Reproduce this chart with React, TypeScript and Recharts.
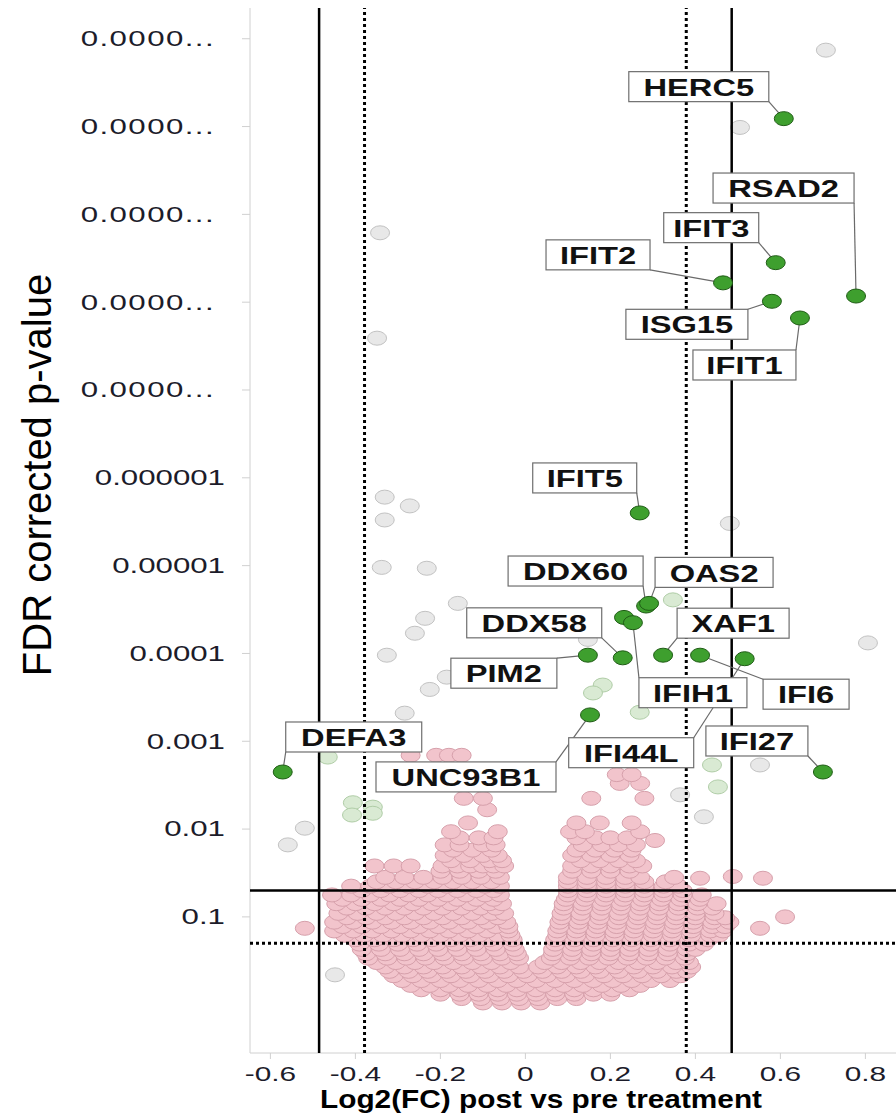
import React from 'react';
import { ScatterChart, Scatter, XAxis, YAxis, ReferenceLine } from 'recharts';

// axis ticks (y is -log10 of the FDR p-value)
const xTicks = [-0.6, -0.4, -0.2, 0, 0.2, 0.4, 0.6, 0.8];
const yTicks = [1, 2, 3, 4, 5, 6, 7, 8, 9, 10, 11];
const yTickLabels = ['0.1', '0.01', '0.001', '0.0001', '0.00001', '0.000001', '0.0000...', '0.0000...', '0.0000...', '0.0000...', '0.0000...'];

// cut-offs: FC 1.3 / 1.4 and FDR 0.2 / 0.05
const fcDotted = 0.3785;
const fcSolid = 0.4854;
const pDotted = 0.699;
const pSolid = 1.301;

// significant genes (dark green)
const labeledGenes = [
  { gene: 'HERC5', x: 0.608, y: 10.09 },
  { gene: 'RSAD2', x: 0.778, y: 8.07 },
  { gene: 'IFIT3', x: 0.589, y: 8.45 },
  { gene: 'IFIT2', x: 0.465, y: 8.22 },
  { gene: 'ISG15', x: 0.58, y: 8.01 },
  { gene: 'IFIT1', x: 0.646, y: 7.82 },
  { gene: 'IFIT5', x: 0.269, y: 5.6 },
  { gene: 'DDX60', x: 0.284, y: 4.54 },
  { gene: 'OAS2', x: 0.291, y: 4.57 },
  { gene: '', x: 0.232, y: 4.41 },
  { gene: 'IFIH1', x: 0.253, y: 4.35 },
  { gene: 'PIM2', x: 0.147, y: 3.98 },
  { gene: 'DDX58', x: 0.229, y: 3.95 },
  { gene: 'XAF1', x: 0.324, y: 3.98 },
  { gene: 'IFI6', x: 0.411, y: 3.98 },
  { gene: 'IFI44L', x: 0.516, y: 3.94 },
  { gene: 'UNC93B1', x: 0.152, y: 3.3 },
  { gene: 'IFI27', x: 0.7, y: 2.65 },
  { gene: 'DEFA3', x: -0.571, y: 2.65 },
];

// pale grey genes
const greyGenes = [
  [0.707, 10.87], [0.505, 9.99], [-0.342, 8.79], [-0.349, 7.59], [-0.331, 5.78], [-0.272, 5.68],
  [-0.331, 5.52], [-0.338, 4.98], [-0.232, 4.97], [-0.159, 4.57], [-0.236, 4.4], [-0.26, 4.23],
  [-0.326, 3.98], [-0.185, 3.73], [-0.225, 3.59], [-0.284, 3.32], [0.147, 4.16], [0.481, 5.48],
  [0.806, 4.12], [0.552, 2.73], [0.364, 2.39], [0.42, 2.14], [-0.519, 2.01], [-0.559, 1.82],
  [-0.448, 0.34],
];

// pale green genes
const paleGreenGenes = [
  [0.347, 4.61], [0.182, 3.64], [0.159, 3.55], [0.269, 3.33], [0.439, 2.73], [0.453, 2.48],
  [-0.465, 2.82], [-0.406, 2.3], [-0.359, 2.25], [-0.408, 2.16], [-0.359, 2.18],
];

// non significant genes (pink), read row by row: [y, x values]
const pinkRows: [number, number[]][] = [
  [0.02, [-0.1, -0.055, -0.01, 0.035]],
  [0.07, [-0.15, -0.105, -0.06, -0.015, 0.03, 0.075, 0.12]],
  [0.12, [-0.2, -0.155, -0.11, -0.065, -0.02, 0.025, 0.07, 0.115, 0.16, 0.2]],
  [0.17, [-0.245, -0.2, -0.155, -0.11, -0.065, -0.02, 0.025, 0.07, 0.115, 0.16, 0.205, 0.245]],
  [0.22, [-0.27, -0.225, -0.18, -0.135, -0.09, -0.045, 0.0, 0.045, 0.09, 0.135, 0.18, 0.225, 0.27]],
  [0.275, [-0.29, -0.245, -0.2, -0.155, -0.11, -0.065, -0.02, 0.025, 0.07, 0.115, 0.16, 0.205, 0.25, 0.295, 0.34]],
  [0.33, [-0.31, -0.265, -0.22, -0.175, -0.13, -0.085, -0.04, 0.005, 0.05, 0.095, 0.14, 0.185, 0.23, 0.275, 0.32, 0.365]],
  [0.38, [-0.32, -0.275, -0.23, -0.185, -0.14, -0.095, -0.05, -0.005, 0.04, 0.085, 0.13, 0.175, 0.22, 0.265, 0.31, 0.355, 0.38]],
  [0.43, [-0.33, -0.285, -0.24, -0.195, -0.15, -0.105, -0.06, -0.015, 0.03, 0.075, 0.12, 0.165, 0.21, 0.255, 0.3, 0.345, 0.39]],
  [0.48, [-0.35, -0.305, -0.26, -0.215, -0.17, -0.125, -0.08, -0.035, 0.045, 0.085, 0.13, 0.175, 0.22, 0.265, 0.31, 0.355, 0.385]],
  [0.53, [-0.37, -0.325, -0.28, -0.235, -0.19, -0.145, -0.1, -0.055, -0.015, 0.06, 0.105, 0.15, 0.195, 0.24, 0.285, 0.33, 0.375]],
  [0.58, [-0.375, -0.33, -0.285, -0.24, -0.195, -0.15, -0.105, -0.06, -0.02, 0.065, 0.11, 0.155, 0.2, 0.245, 0.29, 0.335, 0.38]],
  [0.63, [-0.385, -0.34, -0.295, -0.25, -0.205, -0.16, -0.115, -0.07, -0.025, 0.065, 0.11, 0.155, 0.2, 0.245, 0.29, 0.335, 0.38, 0.4]],
  [0.69, [-0.39, -0.345, -0.3, -0.255, -0.21, -0.165, -0.12, -0.075, -0.03, 0.07, 0.115, 0.16, 0.205, 0.25, 0.295, 0.34, 0.385, 0.42]],
  [0.74, [-0.4, -0.355, -0.31, -0.265, -0.22, -0.175, -0.13, -0.085, -0.03, 0.07, 0.115, 0.16, 0.205, 0.25, 0.295, 0.34, 0.385, 0.43]],
  [0.79, [-0.425, -0.38, -0.335, -0.29, -0.245, -0.2, -0.155, -0.11, -0.065, -0.035, 0.075, 0.12, 0.165, 0.21, 0.255, 0.3, 0.345, 0.39, 0.435, 0.455]],
  [0.84, [-0.45, -0.405, -0.36, -0.315, -0.27, -0.225, -0.18, -0.135, -0.09, -0.04, 0.075, 0.12, 0.165, 0.21, 0.255, 0.3, 0.345, 0.39, 0.435, 0.465]],
  [0.89, [-0.43, -0.385, -0.34, -0.295, -0.25, -0.205, -0.16, -0.115, -0.07, -0.04, 0.08, 0.125, 0.17, 0.215, 0.26, 0.305, 0.35, 0.395, 0.44, 0.47]],
  [0.94, [-0.45, -0.405, -0.36, -0.315, -0.27, -0.225, -0.18, -0.135, -0.09, -0.045, 0.08, 0.125, 0.17, 0.215, 0.26, 0.305, 0.35, 0.395, 0.44, 0.48]],
  [0.99, [-0.42, -0.375, -0.33, -0.285, -0.24, -0.195, -0.15, -0.105, -0.065, 0.085, 0.13, 0.175, 0.22, 0.265, 0.31, 0.355, 0.4, 0.445, 0.47]],
  [1.04, [-0.44, -0.395, -0.35, -0.305, -0.26, -0.215, -0.17, -0.125, -0.08, -0.05, 0.085, 0.13, 0.175, 0.22, 0.265, 0.31, 0.355, 0.4, 0.445]],
  [1.1, [-0.42, -0.375, -0.33, -0.285, -0.24, -0.195, -0.15, -0.105, -0.07, 0.09, 0.135, 0.18, 0.225, 0.27, 0.315, 0.36, 0.405, 0.44]],
  [1.15, [-0.445, -0.4, -0.355, -0.31, -0.265, -0.22, -0.175, -0.13, -0.085, -0.055, 0.09, 0.135, 0.18, 0.225, 0.27, 0.315, 0.36, 0.405, 0.45]],
  [1.2, [-0.43, -0.385, -0.34, -0.295, -0.25, -0.205, -0.16, -0.115, -0.075, 0.095, 0.14, 0.185, 0.23, 0.275, 0.32, 0.365, 0.41]],
  [1.25, [-0.455, -0.41, -0.365, -0.32, -0.275, -0.23, -0.185, -0.14, -0.095, -0.06, 0.1, 0.145, 0.19, 0.235, 0.28, 0.325, 0.37, 0.415]],
  [1.3, [-0.385, -0.34, -0.295, -0.25, -0.205, -0.16, -0.115, -0.075, 0.1, 0.145, 0.19, 0.235, 0.28, 0.325, 0.37]],
  [1.35, [-0.41, -0.365, -0.32, -0.275, -0.23, -0.185, -0.14, -0.095, -0.06, 0.1, 0.145, 0.19, 0.235, 0.28, 0.325, 0.36]],
  [1.4, [-0.35, -0.305, -0.26, -0.215, -0.17, -0.125, -0.08, 0.1, 0.145, 0.19, 0.235, 0.28, 0.33]],
  [1.45, [-0.33, -0.285, -0.24, -0.195, -0.15, -0.105, -0.06, 0.1, 0.145, 0.19, 0.235, 0.27, 0.35]],
  [1.52, [-0.2, -0.155, -0.11, -0.07, 0.11, 0.155, 0.2, 0.245]],
  [1.58, [-0.355, -0.31, -0.27, -0.195, -0.16, -0.13, -0.1, -0.075, -0.05, 0.11, 0.155, 0.2, 0.245, 0.275]],
  [1.64, [-0.175, -0.13, -0.085, -0.055, 0.13, 0.175, 0.22, 0.26]],
  [1.7, [-0.19, -0.145, -0.1, -0.065, 0.11, 0.155, 0.2, 0.245]],
  [1.76, [-0.17, -0.125, -0.08, 0.12, 0.165, 0.21, 0.25]],
  [1.82, [-0.19, -0.155, -0.1, -0.07, 0.135, 0.18, 0.22, 0.26]],
  [1.9, [-0.155, -0.11, -0.075, 0.12, 0.165, 0.2, 0.24]],
  [1.97, [-0.175, -0.065, 0.105, 0.14, 0.27]],
  [2.07, [-0.135, 0.12, 0.175, 0.25]],
  [2.22, [-0.09]],
  [2.35, [-0.145, -0.1, 0.155, 0.28]],
  [2.52, [0.222, 0.27]],
  [2.62, [0.215, 0.25]],
  [2.84, [-0.27, -0.21, -0.18, -0.15]],
];
const pinkSingles = [
  [0.305, 1.87], [0.411, 1.44], [0.488, 1.46], [0.559, 1.44], [0.611, 1.0], [0.552, 0.87], [-0.519, 0.87],
];

// label box placement in pixels, relative to the point
const LABEL_LAYOUT: Record<string, { dx: number; dy: number; w: number; corner: string }> = {
  HERC5: { dx: -155, dy: -47, w: 140, corner: 'br' },
  RSAD2: { dx: -143, dy: -123, w: 141, corner: 'br' },
  IFIT3: { dx: -112, dy: -50, w: 95, corner: 'br' },
  IFIT2: { dx: -177, dy: -43, w: 104, corner: 'br' },
  ISG15: { dx: -146, dy: 8, w: 122, corner: 'tr' },
  IFIT1: { dx: -107, dy: 32, w: 103, corner: 'tr' },
  IFIT5: { dx: -107, dy: -50, w: 104, corner: 'br' },
  DDX60: { dx: -138, dy: -50, w: 135, corner: 'br' },
  OAS2: { dx: 6, dy: -46, w: 118, corner: 'bl' },
  DDX58: { dx: -156, dy: -50, w: 135, corner: 'br' },
  XAF1: { dx: 14, dy: -47, w: 112, corner: 'bl' },
  PIM2: { dx: -137, dy: 3, w: 106, corner: 'tr' },
  IFIH1: { dx: 6, dy: 55, w: 108, corner: 'tl' },
  IFI6: { dx: 63, dy: 24, w: 86, corner: 'tl' },
  IFI44L: { dx: -176, dy: 79, w: 125, corner: 'tr' },
  UNC93B1: { dx: -214, dy: 47, w: 180, corner: 'tr' },
  IFI27: { dx: -117, dy: -46, w: 102, corner: 'br' },
  DEFA3: { dx: 3, dy: -50, w: 136, corner: 'bl' },
};
const BOX_H = 30;
const SX = 1.42; // the source picture is stretched sideways
const FONT = '"Liberation Sans", Arial, sans-serif';

const toPts = (arr: number[][]) => arr.map(([x, y]) => ({ x, y }));
const pinkData = [
  ...pinkRows.flatMap(([y, xs]) => xs.map((x) => ({ x, y }))),
  ...toPts(pinkSingles),
];
const greyData = toPts(greyGenes);
const paleGreenData = toPts(paleGreenGenes);
const labelData = labeledGenes.filter((g) => g.gene !== '');

const dot = (fill: string, stroke: string) => (p: any) => (
  <ellipse cx={p.cx} cy={p.cy} rx={9.5} ry={7} fill={fill} stroke={stroke} strokeWidth={1} />
);

const boxPos = (p: any) => {
  const l = LABEL_LAYOUT[p.payload.gene];
  const bx = p.cx + l.dx;
  const by = p.cy + l.dy;
  const ax = l.corner.includes('r') ? bx + l.w : bx;
  const ay = l.corner.includes('b') ? by + BOX_H : by;
  return { l, bx, by, ax, ay };
};

const Leader = (p: any) => {
  const { ax, ay } = boxPos(p);
  return <line x1={ax} y1={ay} x2={p.cx} y2={p.cy} stroke="#6a6a6a" strokeWidth={1.2} />;
};

const LabelBox = (p: any) => {
  const { l, bx, by } = boxPos(p);
  return (
    <g>
      <rect x={bx} y={by} width={l.w} height={BOX_H} fill="#fff" stroke="#6e6e6e" strokeWidth={1.2} />
      <text
        transform={`translate(${bx + l.w / 2},${by + BOX_H / 2 + 1}) scale(${SX},1)`}
        textAnchor="middle"
        dominantBaseline="central"
        fontFamily={FONT}
        fontWeight="bold"
        fontSize={23}
        fill="#111"
      >
        {p.payload.gene}
      </text>
    </g>
  );
};

const YTick = ({ x, y, payload }: any) => {
  const label = yTickLabels[yTicks.indexOf(payload.value)];
  const cut = label.endsWith('...');
  return (
    <text
      transform={`translate(${cut ? x - 10 : x},${y}) scale(${SX},1)`}
      textAnchor="end"
      dominantBaseline="central"
      fontFamily={FONT}
      fontSize={22}
      letterSpacing={cut ? 1 : 0}
      fill="#1c1c2a"
    >
      {label}
    </text>
  );
};

const XTick = ({ x, y, payload }: any) => (
  <text
    transform={`translate(${x},${y + 9}) scale(${SX},1)`}
    textAnchor="middle"
    dominantBaseline="central"
    fontFamily={FONT}
    fontSize={21}
    fill="#1c1c2a"
  >
    {payload.value}
  </text>
);

export default function App() {
  return (
    <div style={{ position: 'absolute', left: 0, top: 0, width: 896, height: 1117, background: '#fff' }}>
      <ScatterChart width={896} height={1117} margin={{ top: 8, right: 0, bottom: 0, left: 0 }}>
        <XAxis
          type="number"
          dataKey="x"
          domain={[-0.648, 0.872]}
          ticks={xTicks}
          allowDataOverflow
          height={64}
          axisLine={{ stroke: '#d0d0d0' }}
          tickLine={{ stroke: '#d0d0d0' }}
          tickSize={6}
          tickMargin={6}
          tick={<XTick />}
        />
        <YAxis
          type="number"
          dataKey="y"
          domain={[-0.55, 11.35]}
          ticks={yTicks}
          allowDataOverflow
          width={250}
          axisLine={{ stroke: '#d0d0d0' }}
          tickLine={{ stroke: '#d0d0d0' }}
          tickSize={8}
          tickMargin={17}
          tick={<YTick />}
        />
        <Scatter data={pinkData} shape={dot('#f2c4cc', '#d6a0ab')} isAnimationActive={false} />
        <Scatter data={greyData} shape={dot('#e8e8e8', '#c2c2c2')} isAnimationActive={false} />
        <Scatter data={paleGreenData} shape={dot('#d9ead3', '#b0cda7')} isAnimationActive={false} />

        <ReferenceLine x={-fcSolid} stroke="#000" strokeWidth={2.5} zIndex={650} />
        <ReferenceLine x={fcSolid} stroke="#000" strokeWidth={2.5} zIndex={650} />
        <ReferenceLine x={-fcDotted} stroke="#000" strokeWidth={3} strokeDasharray="3 3" zIndex={650} />
        <ReferenceLine x={fcDotted} stroke="#000" strokeWidth={3} strokeDasharray="3 3" zIndex={650} />
        <ReferenceLine y={pSolid} stroke="#000" strokeWidth={2.5} zIndex={650} />
        <ReferenceLine y={pDotted} stroke="#000" strokeWidth={3} strokeDasharray="3 3" zIndex={650} />

        <Scatter data={labelData} shape={Leader} isAnimationActive={false} zIndex={700} />
        <Scatter data={labelData} shape={LabelBox} isAnimationActive={false} zIndex={710} />
        <Scatter data={labeledGenes} shape={dot('#3e9f2e', '#1f5c15')} isAnimationActive={false} zIndex={720} />

        <text transform="translate(51,475) rotate(-90)" textAnchor="middle" fontFamily={FONT} fontSize={40} fill="#000">
          FDR corrected p-value
        </text>
        <text
          x={541}
          y={1108}
          textAnchor="middle"
          fontFamily={FONT}
          fontWeight="bold"
          fontSize={25}
          textLength={442}
          lengthAdjust="spacingAndGlyphs"
          fill="#000"
        >
          Log2(FC) post vs pre treatment
        </text>
      </ScatterChart>
    </div>
  );
}
